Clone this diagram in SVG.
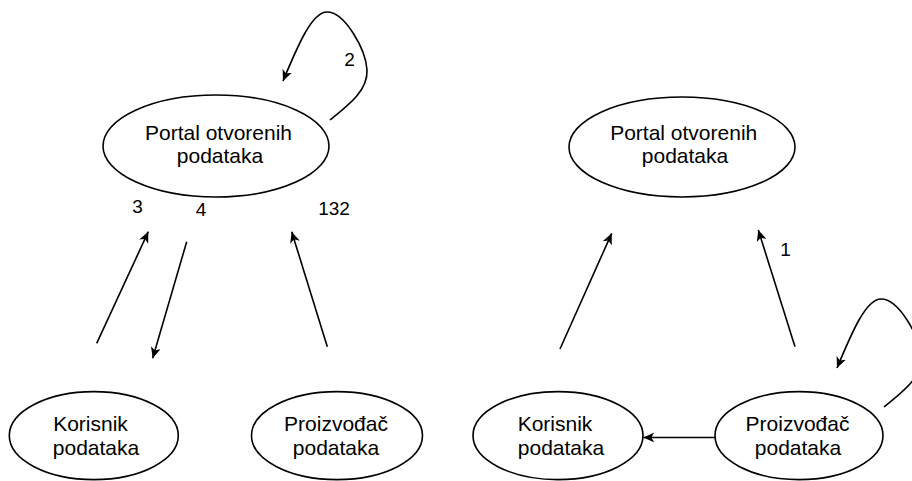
<svg xmlns="http://www.w3.org/2000/svg" width="912" height="481" viewBox="0 0 912 481">
<style>
.node ellipse{fill:#fff;stroke:#000;stroke-width:1.6}
.node text{font-family:"Liberation Sans",Arial,sans-serif;font-size:21px;fill:#000;text-anchor:middle}
.edge{fill:none;stroke:#000;stroke-width:1.6;marker-end:url(#arr)}
.lbl{font-family:"Liberation Sans",Arial,sans-serif;font-size:19px;fill:#000;text-anchor:middle}
</style>
<defs>
<marker id="arr" markerUnits="userSpaceOnUse" markerWidth="14" markerHeight="12" refX="11" refY="5" orient="auto">
<path d="M0,0 L11,5 L0,10 L3,5 Z" fill="#000"/>
</marker>
</defs>
<rect width="912" height="481" fill="#fff"/>
<g id="connectors">
<line class="edge" x1="96.7" y1="343.3" x2="148.3" y2="231.7"/>
<line class="edge" x1="186.7" y1="241.7" x2="152.7" y2="358.3"/>
<line class="edge" x1="327.3" y1="346.7" x2="291.7" y2="231.7"/>
<path class="edge" d="M330,120 C350,104 368,90 367,70 C366,50 345,12 327,12 C312,12 298,45 283,81"/>
<line class="edge" x1="560" y1="349" x2="611.7" y2="233.3"/>
<line class="edge" x1="795" y1="346.7" x2="758.3" y2="230"/>
<line class="edge" x1="716.7" y1="437.5" x2="643.3" y2="437.5"/>
<path class="edge" transform="translate(554,287)" d="M330,120 C350,104 368,90 367,70 C366,50 345,12 327,12 C312,12 298,45 283,81"/>
<text class="lbl" x="137.5" y="213">3</text>
<text class="lbl" x="201" y="216">4</text>
<text class="lbl" x="334" y="215">132</text>
<text class="lbl" x="349.5" y="66">2</text>
<text class="lbl" x="785.5" y="255.5">1</text>
</g>
<g id="portal-left" class="node">
<ellipse cx="216" cy="146" rx="113" ry="51"/>
<text x="218.5" y="139.5">Portal otvorenih</text>
<text x="220" y="163">podataka</text>
</g>
<g id="korisnik-left" class="node">
<ellipse cx="93.8" cy="435.6" rx="84.5" ry="44"/>
<text x="90.5" y="431">Korisnik</text>
<text x="96" y="455">podataka</text>
</g>
<g id="proizvodjac-left" class="node">
<ellipse cx="337" cy="435.6" rx="85.5" ry="44"/>
<text x="336" y="431">Proizvođač</text>
<text x="336" y="455">podataka</text>
</g>
<g id="portal-right" class="node">
<ellipse cx="682" cy="147" rx="113" ry="50"/>
<text x="683.7" y="139.5">Portal otvorenih</text>
<text x="685" y="163">podataka</text>
</g>
<g id="korisnik-right" class="node">
<ellipse cx="558" cy="435.6" rx="85" ry="44"/>
<text x="555" y="431">Korisnik</text>
<text x="561" y="455">podataka</text>
</g>
<g id="proizvodjac-right" class="node">
<ellipse cx="799" cy="435.6" rx="84" ry="44"/>
<text x="797.5" y="431">Proizvođač</text>
<text x="798" y="455">podataka</text>
</g>
</svg>
